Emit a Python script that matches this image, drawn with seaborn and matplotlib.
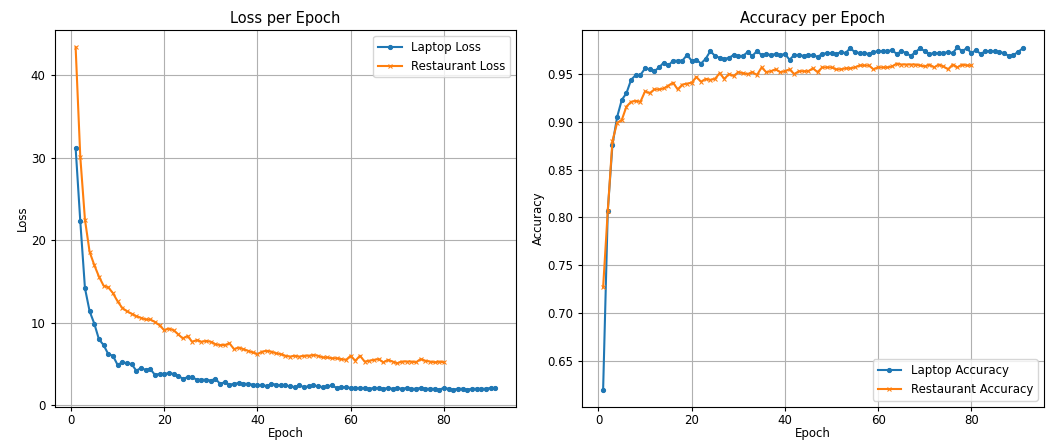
import numpy as np
import pandas as pd
import seaborn as sns
import matplotlib
matplotlib.use("Agg")
import matplotlib.pyplot as plt

# values
laptop_loss = [
    31.2, 22.3, 14.2, 11.4, 9.9, 8.0, 7.3, 6.2, 6.0, 4.9,
    5.2, 5.1, 5.0, 4.2, 4.5, 4.3, 4.4, 3.7, 3.8, 3.8,
    3.9, 3.8, 3.6, 3.2, 3.4, 3.4, 3.1, 3.1, 3.1, 3.0,
    3.2, 2.6, 2.8, 2.5, 2.6, 2.7, 2.6, 2.6, 2.5, 2.4,
    2.5, 2.3, 2.6, 2.5, 2.4, 2.4, 2.3, 2.2, 2.4, 2.2,
    2.3, 2.4, 2.3, 2.2, 2.3, 2.4, 2.1, 2.2, 2.2, 2.1,
    2.1, 2.1, 2.1, 2.0, 2.1, 2.1, 2.0, 2.1, 2.0, 2.1,
    2.0, 2.1, 2.0, 2.0, 2.1, 2.0, 2.0, 2.0, 1.9, 2.1,
    2.0, 1.9, 2.0, 2.0, 1.9, 2.0, 2.0, 2.0, 2.0, 2.1,
    2.1,
]
restaurant_loss = [
    43.4, 30.1, 22.5, 18.6, 17.0, 15.6, 14.5, 14.3, 13.6, 12.6,
    11.8, 11.4, 11.1, 10.8, 10.6, 10.4, 10.4, 10.1, 9.7, 9.1,
    9.3, 9.1, 8.6, 8.1, 8.4, 7.7, 7.9, 7.7, 7.8, 7.7,
    7.4, 7.3, 7.3, 7.5, 6.8, 7.0, 6.8, 6.6, 6.4, 6.2,
    6.5, 6.6, 6.5, 6.3, 6.2, 6.0, 5.9, 6.0, 5.9, 6.0,
    6.0, 6.1, 6.0, 5.8, 5.8, 5.7, 5.7, 5.6, 5.5, 6.0,
    5.4, 6.0, 5.3, 5.4, 5.5, 5.6, 5.2, 5.5, 5.3, 5.1,
    5.3, 5.3, 5.3, 5.2, 5.6, 5.4, 5.3, 5.2, 5.3, 5.2,
]
laptop_acc = [
    0.620, 0.807, 0.876, 0.905, 0.923, 0.930, 0.944, 0.949, 0.949, 0.956,
    0.955, 0.953, 0.957, 0.962, 0.959, 0.964, 0.964, 0.964, 0.970, 0.964,
    0.965, 0.961, 0.966, 0.974, 0.969, 0.967, 0.966, 0.967, 0.970, 0.969,
    0.969, 0.973, 0.969, 0.974, 0.970, 0.971, 0.970, 0.971, 0.970, 0.971,
    0.965, 0.970, 0.970, 0.969, 0.970, 0.970, 0.968, 0.971, 0.972, 0.972,
    0.971, 0.973, 0.972, 0.977, 0.973, 0.972, 0.972, 0.971, 0.973, 0.974,
    0.974, 0.974, 0.975, 0.971, 0.974, 0.972, 0.969, 0.973, 0.977, 0.974,
    0.971, 0.972, 0.972, 0.972, 0.973, 0.972, 0.978, 0.974, 0.977, 0.972,
    0.975, 0.971, 0.974, 0.974, 0.974, 0.973, 0.972, 0.969, 0.970, 0.973,
    0.977,
]
restaurant_acc = [
    0.727, 0.807, 0.880, 0.899, 0.902, 0.916, 0.921, 0.922, 0.921, 0.932,
    0.930, 0.934, 0.934, 0.935, 0.938, 0.941, 0.934, 0.939, 0.940, 0.941,
    0.947, 0.942, 0.945, 0.944, 0.945, 0.951, 0.945, 0.950, 0.948, 0.952,
    0.951, 0.950, 0.952, 0.949, 0.957, 0.952, 0.953, 0.955, 0.952, 0.953,
    0.955, 0.950, 0.953, 0.953, 0.953, 0.956, 0.952, 0.957, 0.957, 0.957,
    0.955, 0.955, 0.956, 0.956, 0.957, 0.959, 0.959, 0.959, 0.955, 0.957,
    0.957, 0.957, 0.958, 0.961, 0.960, 0.960, 0.960, 0.960, 0.959, 0.958,
    0.960, 0.957, 0.960, 0.958, 0.955, 0.960, 0.957, 0.960, 0.959, 0.959,
]

laptop_epochs = np.arange(1, len(laptop_loss) + 1)
restaurant_epochs = np.arange(1, len(restaurant_loss) + 1)

blue = "#1f77b4"
orange = "#ff7f0e"

plt.rcParams.update({
    "font.size": 8.5,
    "axes.titlesize": 10.5,
    "axes.titlepad": 5,
    "axes.labelsize": 8.5,
    "axes.labelpad": 1.5,
    "xtick.labelsize": 8.5,
    "ytick.labelsize": 8.5,
    "xtick.major.pad": 2.5,
    "xtick.major.size": 3,
    "ytick.major.size": 3,
    "legend.fontsize": 8.5,
})

fig, (ax1, ax2) = plt.subplots(1, 2, figsize=(10.51, 4.44), dpi=100)
fig.subplots_adjust(left=0.052, right=0.993, bottom=0.084, top=0.932, wspace=0.143)

# --- Loss ---
sns.lineplot(x=laptop_epochs, y=laptop_loss, ax=ax1, color=blue, marker="o",
             markersize=3, markeredgecolor=blue, linewidth=1.5, label="Laptop Loss")
sns.lineplot(x=restaurant_epochs, y=restaurant_loss, ax=ax1, color=orange, marker="x",
             markersize=3, markeredgecolor=orange, linewidth=1.5, label="Restaurant Loss")
ax1.set_title("Loss per Epoch")
ax1.set_xlabel("Epoch", labelpad=0)
ax1.set_ylabel("Loss")
ax1.grid(True)
ax1.legend(loc="upper right")

# --- Accuracy ---
sns.lineplot(x=laptop_epochs, y=laptop_acc, ax=ax2, color=blue, marker="o",
             markersize=3, markeredgecolor=blue, linewidth=1.5, label="Laptop Accuracy")
sns.lineplot(x=restaurant_epochs, y=restaurant_acc, ax=ax2, color=orange, marker="x",
             markersize=3, markeredgecolor=orange, linewidth=1.5, label="Restaurant Accuracy")
ax2.set_title("Accuracy per Epoch")
ax2.set_xlabel("Epoch", labelpad=0)
ax2.set_ylabel("Accuracy")
ax2.grid(True)
ax2.legend(loc="lower right")

fig.savefig("out.png", dpi=100)
